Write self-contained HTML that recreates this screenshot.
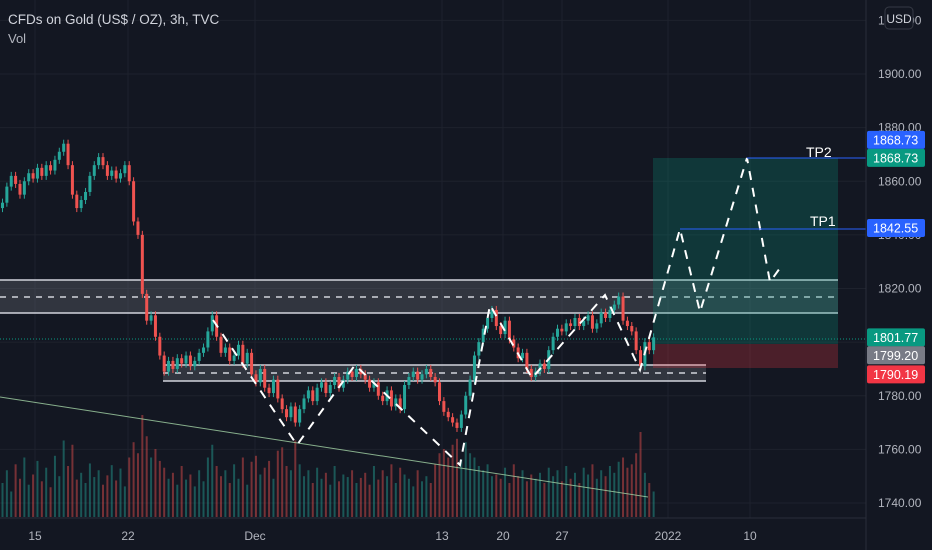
<!DOCTYPE html>
<html><head><meta charset="utf-8"><style>
html,body{margin:0;padding:0;background:#131722;}
svg{display:block;font-family:"Liberation Sans",sans-serif;}
</style></head><body>
<svg id="chart" width="932" height="550" viewBox="0 0 932 550">
<rect width="932" height="550" fill="#131722"/>
<g id="grid"></g>
<g id="vol"></g>
<rect x="0" y="280" width="838" height="33" fill="rgba(120,123,134,0.3)"/>
<line x1="0" y1="280" x2="838" y2="280" stroke="#d1d4dc" stroke-width="1.5"/>
<line x1="0" y1="313" x2="838" y2="313" stroke="#d1d4dc" stroke-width="1.5"/>
<line x1="0" y1="297" x2="838" y2="297" stroke="#d1d4dc" stroke-width="1.5" stroke-dasharray="6,6"/>
<rect x="163" y="365" width="543" height="16" fill="rgba(120,123,134,0.3)"/>
<line x1="163" y1="365" x2="706" y2="365" stroke="#d1d4dc" stroke-width="1.5"/>
<line x1="163" y1="381" x2="706" y2="381" stroke="#d1d4dc" stroke-width="1.5"/>
<line x1="163" y1="373" x2="706" y2="373" stroke="#d1d4dc" stroke-width="1.5" stroke-dasharray="6,6"/>
<rect x="653" y="158" width="185" height="186" fill="rgba(8,153,129,0.25)"/>
<rect x="653" y="344" width="185" height="24" fill="rgba(242,54,69,0.25)"/>
<line x1="0" y1="397" x2="648" y2="497" stroke="#a5d6a7" stroke-width="1" opacity="0.8"/>
<line x1="0" y1="339" x2="866" y2="339" stroke="#089981" stroke-width="1" stroke-dasharray="1,2"/>
<g id="candles"></g>
<polyline points="213,320 297,445 355,365 460,465 490,305 532,378 605,295 640,370 680,229 700,312 747,158 770,282 780,268" fill="none" stroke="#fff" stroke-width="2" stroke-dasharray="9,8"/>
<line x1="747" y1="158" x2="866" y2="158" stroke="#2962ff" stroke-width="1"/>
<line x1="680" y1="229" x2="866" y2="229" stroke="#2962ff" stroke-width="1"/>
<text x="806" y="157" fill="#fff" font-size="14">TP2</text>
<text x="810" y="226" fill="#fff" font-size="14">TP1</text>
<line x1="866" y1="0" x2="866" y2="550" stroke="#2a2e39"/>
<line x1="0" y1="518" x2="866" y2="518" stroke="#2a2e39"/>
<g id="yaxis"></g>
<g id="xaxis"></g>
<text x="8" y="24" fill="#d1d4dc" font-size="13.5">CFDs on Gold (US$ / OZ), 3h, TVC</text>
<text x="8" y="43" fill="#b2b5be" font-size="13">Vol</text>
<g id="tags"></g>
<rect x="885" y="7" width="28" height="22" rx="4" fill="#131722" stroke="#363a45"/>
<text x="899" y="23" fill="#d1d4dc" font-size="12" text-anchor="middle">USD</text>
</svg>
<script>
const closes=[1852,1858,1862,1859,1855,1860,1863,1861,1865,1862,1866,1864,1868,1871,1874,
1866,1855,1850,1853,1856,1862,1866,1869,1866,1862,1864,1861,1863,1866,1860,
1845,1840,1818,1808,1810,1802,1795,1789,
1793,1790,1794,1792,1795,1791,1793,1796,1798,1804,1810,
1802,1796,1798,1793,1795,1799,1792,1796,1788,
1785,1790,1783,1781,1786,1779,1775,1772,1776,1770,
1775,1779,1782,1778,1783,1785,1781,1784,1787,1783,1786,1789,1787,1790,
1788,1786,1783,1785,1780,1778,1782,1776,1779,1775,1784,1787,1789,1786,1788,1790,1787,1785,1778,
1774,1772,1770,1768,1773,
1780,1786,1795,1800,1805,1809,1812,
1806,1803,1808,1801,1798,1794,1796,1790,1787,
1789,1792,1790,1797,1802,1805,1804,1807,1806,1809,1806,1808,1810,1805,1807,1811,1809,1812,1814,1817,
1808,1806,1804,1797,1791,1800,1797,1801.77];
const volumes=[40,55,30,62,45,70,38,50,66,42,58,35,72,48,90,
60,85,44,52,40,63,47,55,38,49,61,43,57,36,70,
88,75,120,95,70,80,66,58,
45,52,38,60,44,50,36,55,42,70,85,
60,48,55,40,62,45,70,38,65,
72,50,58,66,45,78,82,60,55,90,
62,48,55,40,58,45,52,38,60,42,50,47,55,40,
46,52,38,60,44,55,48,62,40,58,50,45,36,55,42,48,40,62,75,
80,70,85,92,68,
88,75,70,60,55,62,48,
50,45,58,40,62,48,55,42,50,
45,52,40,58,48,55,42,60,45,52,40,58,50,62,45,55,48,60,52,65,
70,58,62,75,100,52,40,30];
const yTicks=[1920,1900,1880,1860,1840,1820,1800,1780,1760,1740];
const xLabels=["15","22","Dec","13","20","27","2022","10"];
const xLabelPos=[35,128,255,442,503,562,668,750];
const tagValues=[1868.73,1868.73,1842.55,1801.77,1799.20,1790.19];
const tagColors=["#2962ff","#089981","#2962ff","#089981","#787b86","#f23645"];
const tagOffsets=[-18,0,0,0,11,6];

const NS="http://www.w3.org/2000/svg";
const yScale=p=>74+(1900-p)*2.68125;
const xScale=i=>2+i*4.37;
const vScale=v=>v*0.85;
function mk(t,a,parent){const e=document.createElementNS(NS,t);for(const k in a)e.setAttribute(k,a[k]);parent.appendChild(e);return e;}
const grid=document.getElementById('grid');
yTicks.forEach(p=>{const y=yScale(p);const l=mk('line',{x1:0,x2:866,y1:y,y2:y,stroke:'#1e222d'},grid);

});
xLabelPos.forEach(x=>{const l=mk('line',{x1:x,x2:x,y1:0,y2:518,stroke:'#1e222d'},grid);

});
const vol=document.getElementById('vol'),cg=document.getElementById('candles');
closes.forEach((c,i)=>{
 const o=i>0?closes[i-1]:c-2;const up=c>=o;const x=xScale(i);
 const col=up?'#26a69a':'#ef5350';
 const vb=mk('rect',{x:x-0.5,y:517-vScale(volumes[i]),width:2,height:vScale(volumes[i]),fill:up?'rgba(38,166,154,0.45)':'rgba(239,83,80,0.45)'},vol);
 
 
 const hi=Math.max(o,c)+1.5,lo=Math.min(o,c)-1.5;
 const w=mk('line',{x1:x+0.5,x2:x+0.5,y1:yScale(hi),y2:yScale(lo),stroke:col,'stroke-width':1},cg);
 
 
 const t=yScale(Math.max(o,c)),b=yScale(Math.min(o,c));
 const r=mk('rect',{x:x-1,y:t,width:3,height:Math.max(1,b-t),fill:col},cg);
 
 
});
const ya=document.getElementById('yaxis');
yTicks.forEach(p=>{const t=mk('text',{x:878,y:yScale(p)+4,fill:'#b2b5be','font-size':12},ya);t.textContent=p.toFixed(2);

});
const xa=document.getElementById('xaxis');
xLabels.forEach((s,i)=>{const t=mk('text',{x:xLabelPos[i],y:540,fill:'#b2b5be','font-size':12,'text-anchor':'middle'},xa);t.textContent=s;

});
const tg=document.getElementById('tags');
tagValues.forEach((v,i)=>{const y=yScale(v)+tagOffsets[i];
 const r=mk('rect',{x:867,y:y-9,width:58,height:18,rx:2,fill:tagColors[i]},tg);
 
 
 const t=mk('text',{x:873,y:y+4.5,fill:'#fff','font-size':12.5},tg);t.textContent=v.toFixed(2);
 
 });
</script>
</body></html>
